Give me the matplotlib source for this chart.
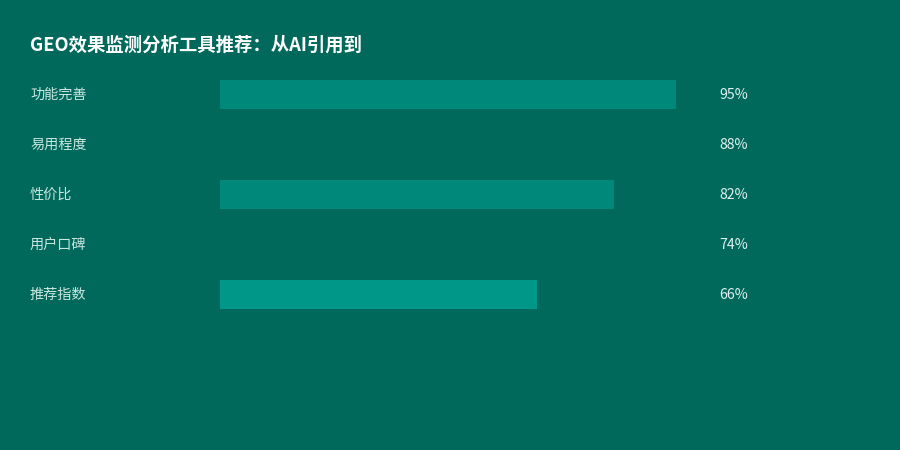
import matplotlib
matplotlib.use('Agg')
import matplotlib.pyplot as plt
from matplotlib.transforms import blended_transform_factory

plt.rcParams['font.family'] = ['Noto Sans CJK SC', 'DejaVu Sans']

title = 'GEO效果监测分析工具推荐：从AI引用到'
categories = ['功能完善', '易用程度', '性价比', '用户口碑', '推荐指数']
values = [95, 88, 82, 74, 66]
bar_colors = ['#00897B', '#00695C', '#00897B', '#00695C', '#009688']

bg = '#00695C'

fig = plt.figure(figsize=(9, 4.5), dpi=100, facecolor=bg)
# bar area: x 220..700 px, rows centered at 94..294 px
ax = fig.add_axes([220 / 900, (450 - 319) / 450, 480 / 900, 250 / 450])
ax.set_facecolor(bg)
ax.set_xlim(0, 100)
ax.set_ylim(4.5, -0.5)
ax.axis('off')

ypos = list(range(len(categories)))
ax.barh(ypos, values, height=0.58, color=bar_colors, linewidth=0)

tr = blended_transform_factory(fig.transFigure, ax.transData)
for y, cat, v in zip(ypos, categories, values):
    ax.text(30 / 900, y + 0.02, cat, transform=tr, ha='left', va='center',
            fontsize=10.2, color='#C8E6E0')
    ax.text(719 / 900, y + 0.02, f'{v}%', transform=tr, ha='left', va='center',
            fontsize=10.2, color='#E0F2F1')

fig.text(30 / 900, 1 - 45 / 450, title, ha='left', va='center',
         fontsize=13.2, fontweight='bold', color='white')

fig.savefig('out.png', dpi=100, facecolor=bg)
